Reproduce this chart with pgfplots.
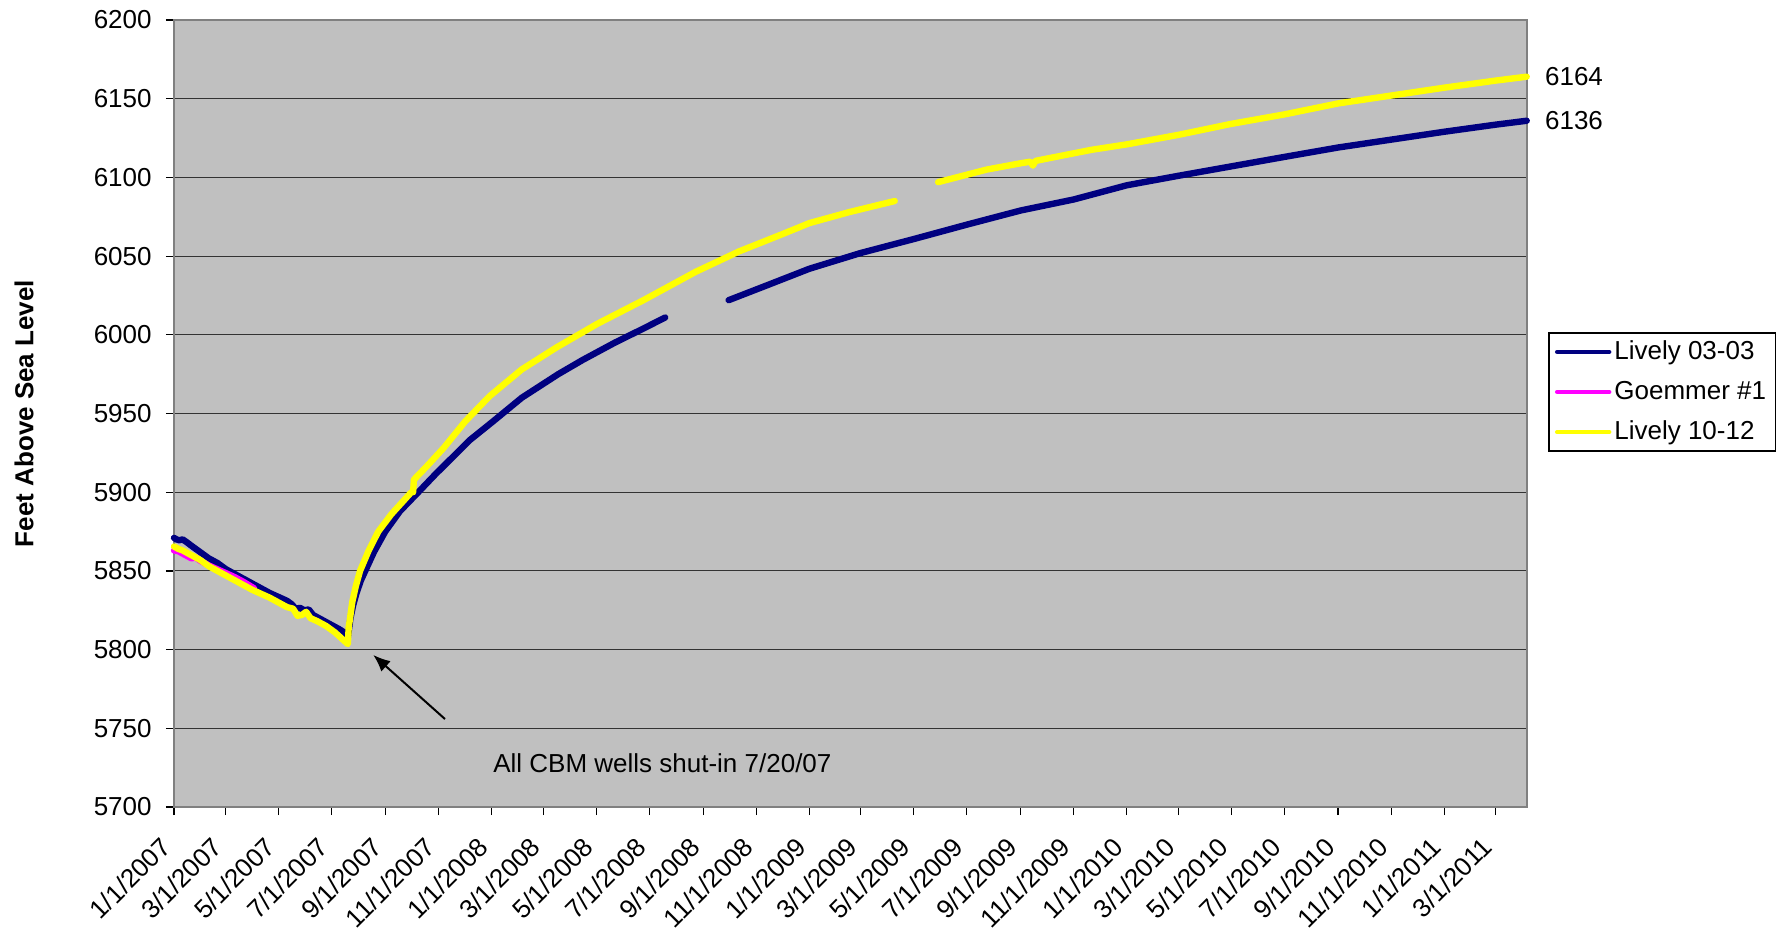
\documentclass[border=0pt]{standalone}
\usepackage{fontspec}
\setmainfont{Liberation Sans}
\usepackage{pgfplots}
\pgfplotsset{compat=1.18}
\usetikzlibrary{arrows.meta}
\definecolor{navyc}{RGB}{0,0,128}
\definecolor{magc}{RGB}{255,0,255}
\definecolor{yelc}{RGB}{255,255,0}
\definecolor{plotbg}{RGB}{192,192,192}
\begin{document}
\begin{tikzpicture}[font=\fontsize{13}{15.6}\selectfont]
\begin{axis}[
  scale only axis, width=676.35pt, height=393.5pt,
  xmin=0, xmax=1556, ymin=5700, ymax=6200,
  axis background/.style={fill=plotbg},
  axis line style={draw=black!50, line width=1.2pt},
  ytick={5700,5750,...,6200},
  xtick={0,59,120,181,243,304,365,425,486,547,609,670,731,790,851,912,974,1035,1096,1155,1216,1277,1339,1400,1461,1520},
  xticklabels={1/1/2007,3/1/2007,5/1/2007,7/1/2007,9/1/2007,11/1/2007,1/1/2008,3/1/2008,5/1/2008,7/1/2008,9/1/2008,11/1/2008,1/1/2009,3/1/2009,5/1/2009,7/1/2009,9/1/2009,11/1/2009,1/1/2010,3/1/2010,5/1/2010,7/1/2010,9/1/2010,11/1/2010,1/1/2011,3/1/2011},
  ymajorgrids, major grid style={black!80, line width=0.5pt},
  tick align=outside, major tick length=4pt,
  tick style={black, line width=0.6pt},
  xtick pos=bottom, ytick pos=left,
  /pgf/number format/assume math mode=true,
  /pgf/number format/1000 sep={},
  scaled ticks=false,
  ticklabel style={font=\fontsize{13}{15.6}\selectfont},
  yticklabel style={inner sep=0pt, xshift=-7pt},
  xticklabel style={inner sep=0pt, xshift=-7.5pt, yshift=-10pt, rotate=45, anchor=north east},
  clip=false,
  legend style={at={(axis description cs:1.016,0.6032)}, anchor=north west,
     draw=black, line width=0.6pt, fill=white, inner xsep=3pt, inner ysep=2.5pt,
     row sep=6.3pt, font=\fontsize{13}{15.6}\selectfont,
     nodes={inner sep=1.5pt}},
  legend cell align=left,
  legend image code/.code={\draw[#1, line width=2.2pt, line cap=round] (0pt,0pt) -- (26pt,0pt);},
  every axis plot/.append style={line width=3.2pt, line cap=round, line join=round},
]
\coordinate (O) at (rel axis cs:0,0);
% Lively 03-03
\addplot[navyc] coordinates {
(0,5871) (3,5870) (6,5869.5) (10,5870) (14,5868.5) (20,5866) (30,5862) (40,5858) (50,5855) (60,5851)
(70,5848) (80,5845) (90,5842) (100,5839) (110,5836) (120,5833.5) (130,5831) (135,5829) (140,5826)
(145,5826.5) (150,5825) (155,5825.5) (160,5822) (170,5819) (180,5816) (190,5813) (197,5810.5) (200,5808)
(201,5812) (203,5820) (206,5828) (210,5836) (215,5844) (220,5850) (230,5862) (243,5875) (260,5888)
(281,5900) (300,5911) (320,5922) (340,5933) (367,5945) (400,5960) (442,5975) (470,5984) (507,5995)
(540,6004) (565,6011)
};
\addlegendentry{Lively 03-03}
% Goemmer #1
\addplot[magc] coordinates {
(0,5863) (5,5862.5) (10,5861) (20,5858) (25,5858.5) (30,5856.5) (40,5853.5) (50,5851) (60,5848.5)
(70,5846) (80,5843) (92,5839)
};
\addlegendentry{Goemmer \#1}
% Lively 10-12
\addplot[yelc] coordinates {
(0,5865.5) (5,5864) (10,5863) (20,5860) (30,5857) (40,5853) (50,5850) (60,5847) (70,5844) (80,5841)
(90,5838) (100,5835.5) (110,5833) (120,5830) (130,5827) (137,5826) (142,5821.5) (147,5822) (152,5824)
(157,5820) (165,5818) (175,5815) (185,5811) (195,5806) (200,5803.5)
(201,5815) (202,5818) (205,5830) (209,5840) (214,5850) (224,5863) (235,5875) (250,5886) (273,5900)
(275,5900) (276,5908) (290,5916) (310,5928) (335,5945) (363,5961) (400,5978) (440,5992) (487,6007)
(540,6022) (600,6040) (650,6053) (700,6064) (731,6071) (777,6078) (829,6085)
};
\addlegendentry{Lively 10-12}
\addplot[navyc, forget plot] coordinates {
(638,6022) (680,6031) (731,6042) (790,6052) (852,6061) (912,6070) (974,6079) (1035,6086) (1096,6095)
(1155,6101) (1216,6107) (1277,6113) (1339,6119) (1400,6124) (1461,6129) (1520,6133.5) (1556,6136)
};
\addplot[yelc, forget plot] coordinates {
(879,6097) (900,6100) (935,6105) (974,6109) (985,6110) (988,6107.5) (991,6110.5) (1000,6111.5)
(1055,6117.5) (1096,6121) (1155,6127) (1216,6134) (1277,6140) (1339,6147) (1400,6152) (1461,6157)
(1520,6161.5) (1556,6164)
};
\node[anchor=west, inner sep=0pt, xshift=9pt] at (axis cs:1556,6164) {6164};
\node[anchor=west, inner sep=0pt, xshift=9pt] at (axis cs:1556,6136) {6136};
\draw[line width=1pt, -{Latex[length=8.5pt, width=7pt]}] (axis cs:311.7,5755.9) -- (axis cs:229.2,5796.6);
\node[anchor=center] at (axis cs:561.8,5728) {All CBM wells shut-in 7/20/07};
\node[rotate=90, font=\bfseries\fontsize{13}{15.6}\selectfont] at ([xshift=-75pt]rel axis cs:0,0.5) {Feet Above Sea Level};
\end{axis}
\pgfresetboundingbox
\path[use as bounding box] (O) ++(-87pt,-63.5pt) rectangle ++(893pt,467pt);
\end{tikzpicture}
\end{document}
